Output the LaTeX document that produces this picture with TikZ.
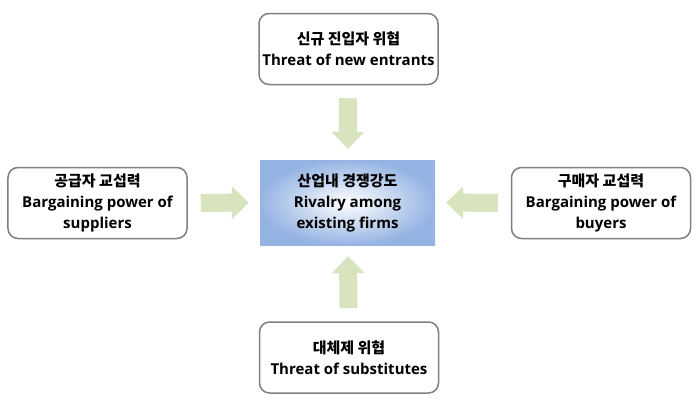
\documentclass[tikz,border=0pt]{standalone}
\usepackage{fontspec}
\setmainfont{Open Sans}
\newfontfamily\kr{Noto Sans CJK KR Bold}
\usetikzlibrary{arrows.meta}
\definecolor{boxgray}{RGB}{128,128,128}
\definecolor{arrgreen}{RGB}{215,228,189}
\definecolor{midblue}{RGB}{150,180,227}

\begin{document}
\begin{tikzpicture}[x=1bp,y=-1bp,
    every node/.style={align=center,font=\bfseries\fontsize{15bp}{21bp}\selectfont},
    force/.style={draw=boxgray,line width=1.5bp,rounded corners=10bp,fill=white,
      minimum width=179bp,minimum height=71bp,inner sep=0pt},
    push/.style={draw=arrgreen,line width=18bp,shorten <=13bp,shorten >=11bp,
      -{Triangle[length=17bp,width=33bp,line width=0pt]}}]
  \useasboundingbox(0,0)rectangle(695,408);
  \node[force](entry)at(348.5,49){{\kr 신규 진입자 위협}\\Threat of new entrants};
  \node[force](supplier)at(97.5,203){{\kr 공급자 교섭력}\\Bargaining power of\\suppliers};
  \node[force](buyer)at(601,203){{\kr 구매자 교섭력}\\Bargaining power of\\buyers};
  \node[force](subst)at(349,357.5){{\kr 대체제 위협}\\Threat of substitutes};
  \node[inner sep=0pt,minimum width=175bp,minimum height=85bp,
    inner color=white,outer color=midblue](rivalry)at(347.5,202.5)
    {{\kr 산업내 경쟁강도}\\Rivalry among\\existing firms};
  \draw[push](entry)--(rivalry);
  \draw[push](supplier)--(rivalry);
  \draw[push](buyer)--(rivalry);
  \draw[push](subst)--(rivalry);
\end{tikzpicture}
\end{document}
